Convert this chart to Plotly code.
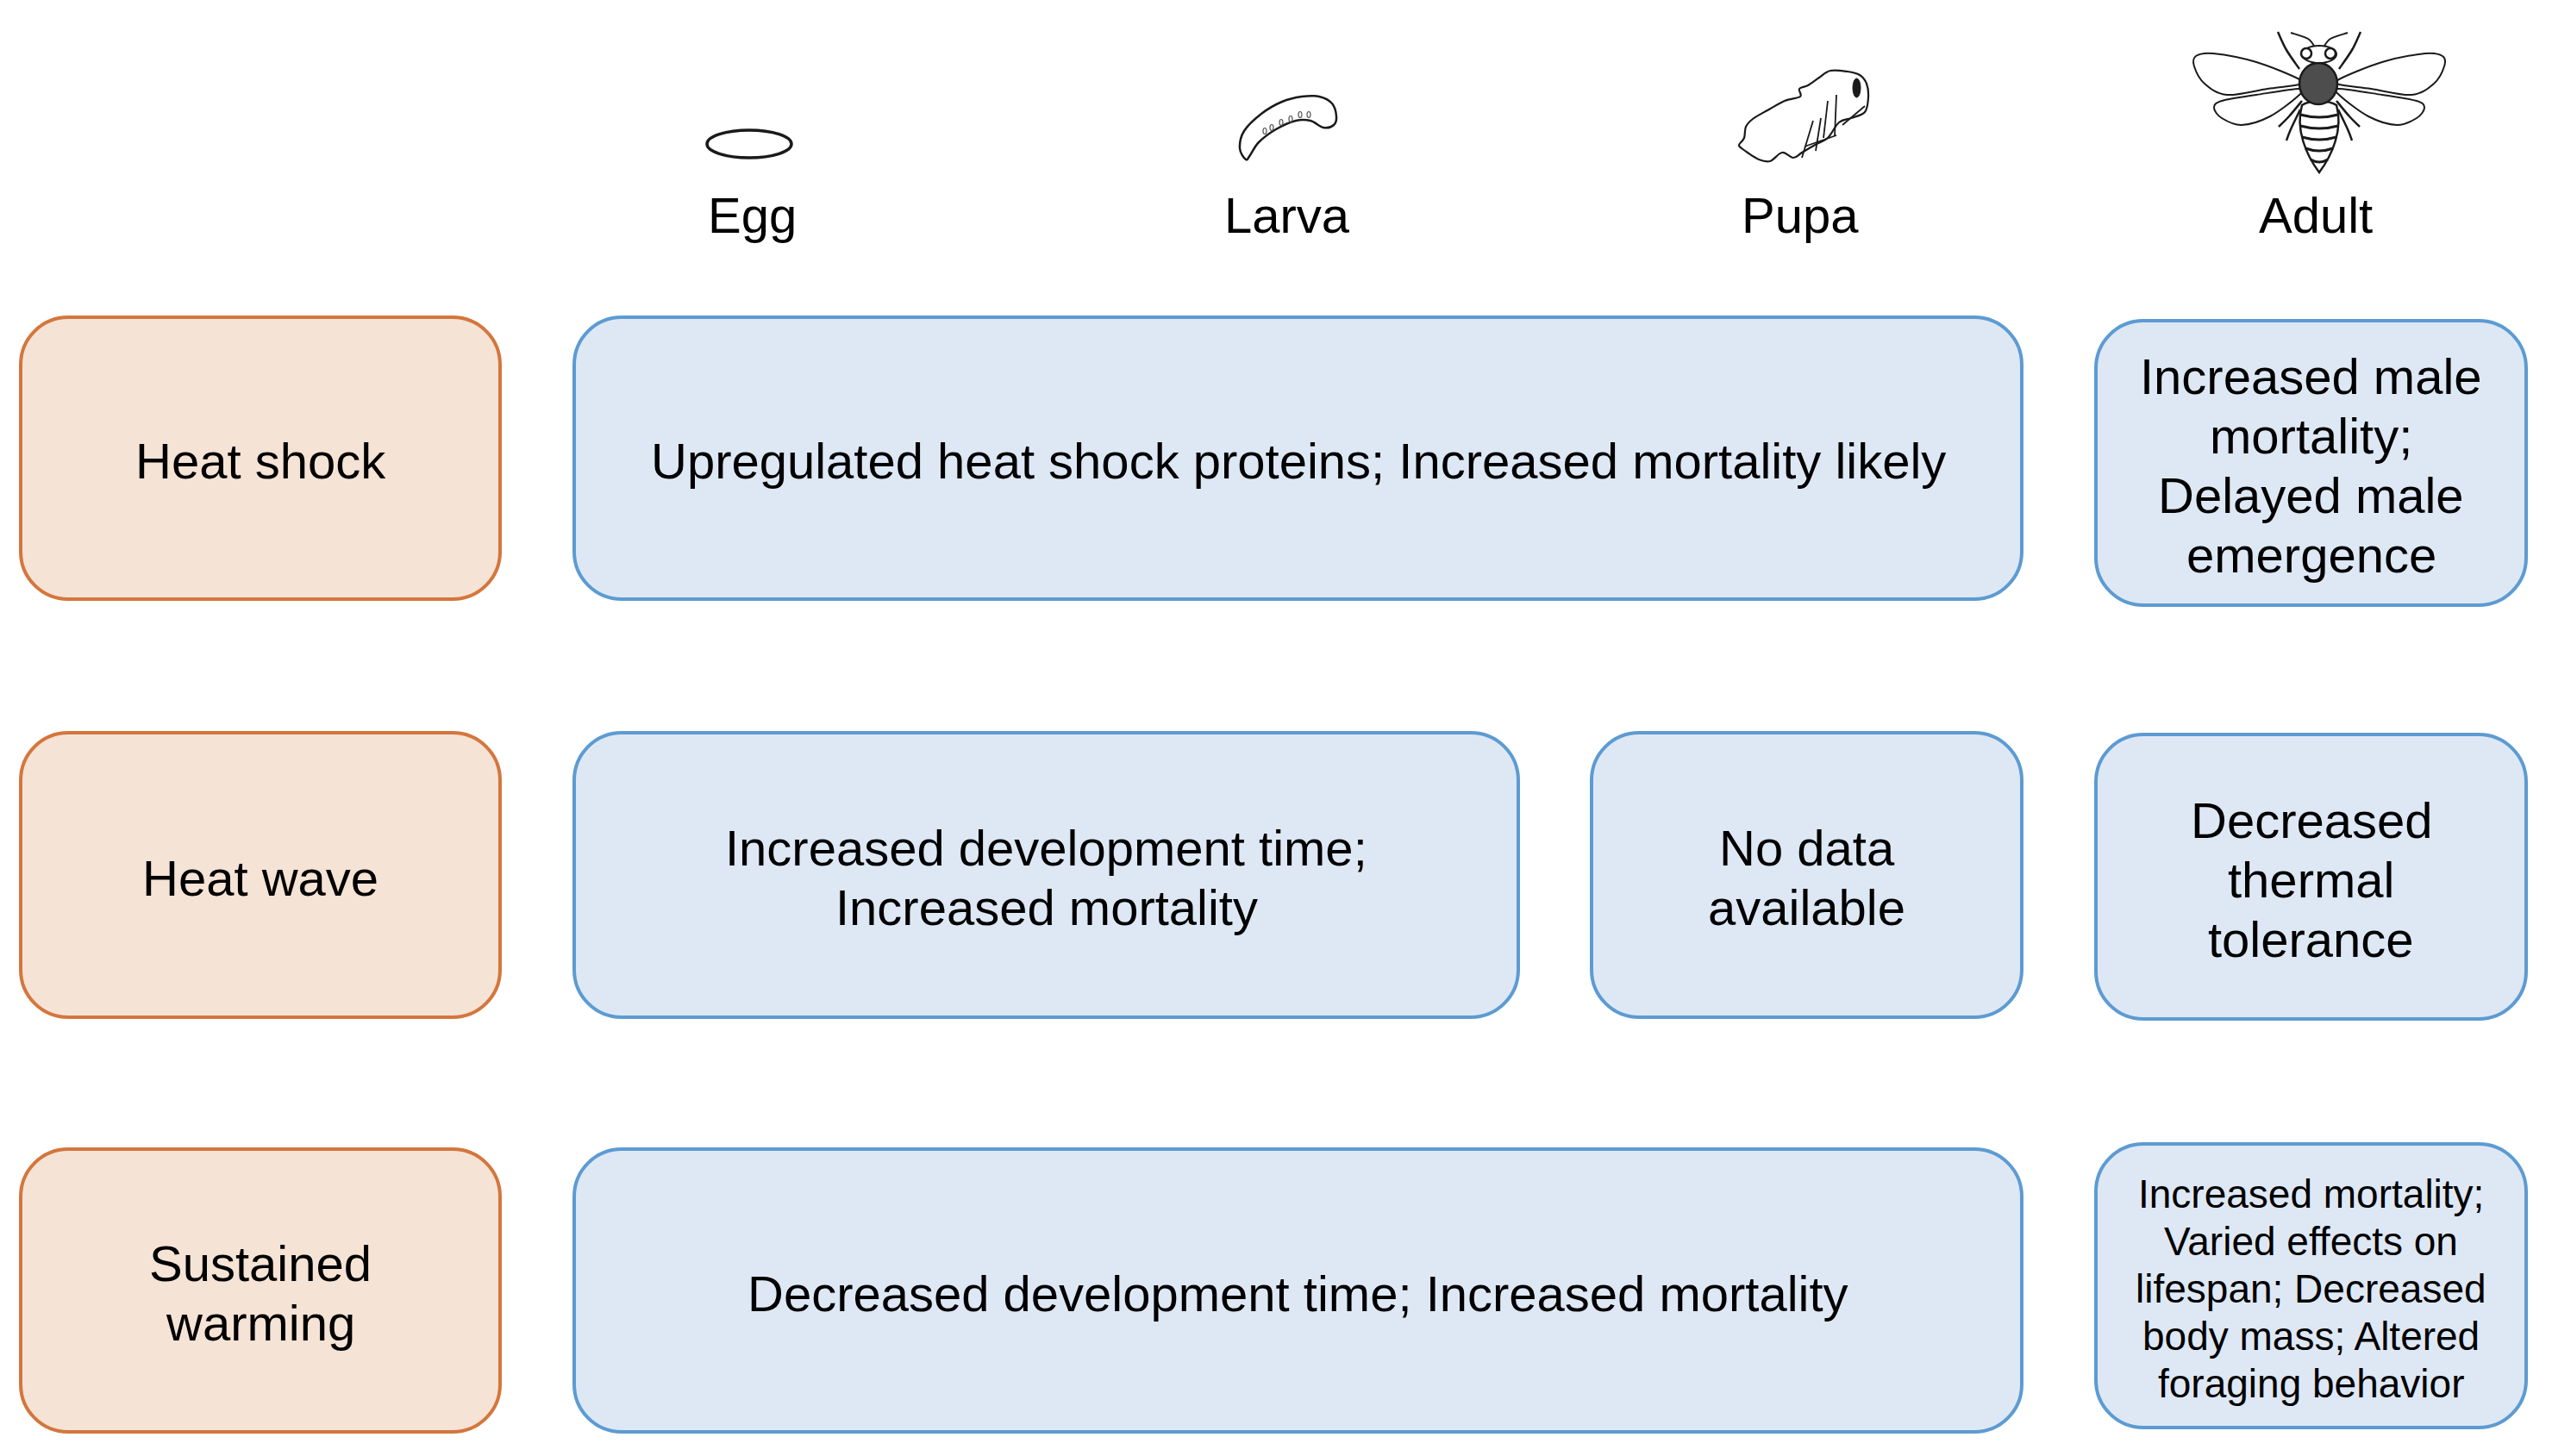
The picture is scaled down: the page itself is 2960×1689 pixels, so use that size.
import plotly.graph_objects as go

W, H = 2960, 1689
PAGE_OFFSET = 8  # browser body margin; keeps page pixels == data units

# ---- content ----
stages = ["Egg", "Larva", "Pupa", "Adult"]
stage_label_x = [872, 1493, 2088, 2686]
stage_label_y = 249

events = [["Heat shock"], ["Heat wave"], ["Sustained", "warming"]]

# (row, first stage, last stage, text lines, small text?)
effects = [
    (0, 0, 2, ["Upregulated heat shock proteins; Increased mortality likely"], False),
    (0, 3, 3, ["Increased male", "mortality;", "Delayed male", "emergence"], False),
    (1, 0, 1, ["Increased development time;", "Increased mortality"], False),
    (1, 2, 2, ["No data", "available"], False),
    (1, 3, 3, ["Decreased", "thermal", "tolerance"], False),
    (2, 0, 2, ["Decreased development time; Increased mortality"], False),
    (2, 3, 3, ["Increased mortality;", "Varied effects on", "lifespan; Decreased",
               "body mass; Altered", "foraging behavior"], True),
]

# ---- layout grid ----
event_col = (24, 580)
stage_cols = [(666, 1170), (1256, 1761), (1846, 2345), (2431, 2930)]
rows = [(368, 695), (850, 1180), (1333, 1661)]
adult_rows = [(372, 702), (852, 1182), (1327, 1656)]

RADIUS = 55
FONT = "Liberation Sans, Arial, Helvetica, sans-serif"
BIG, SMALL = 58, 46
BIG_LEAD, SMALL_LEAD = 69, 55

ORANGE_FILL, ORANGE_LINE = "#F5E3D5", "#D4763D"
BLUE_FILL, BLUE_LINE = "#DEE8F5", "#5D9BD2"


def rounded_rect(x0, y0, x1, y1, r):
    k = 0.5523 * r
    return (
        f"M {x0 + r},{y0} L {x1 - r},{y0} "
        f"C {x1 - r + k},{y0} {x1},{y0 + r - k} {x1},{y0 + r} "
        f"L {x1},{y1 - r} "
        f"C {x1},{y1 - r + k} {x1 - r + k},{y1} {x1 - r},{y1} "
        f"L {x0 + r},{y1} "
        f"C {x0 + r - k},{y1} {x0},{y1 - r + k} {x0},{y1 - r} "
        f"L {x0},{y0 + r} "
        f"C {x0},{y0 + r - k} {x0 + r - k},{y0} {x0 + r},{y0} Z"
    )


def smooth(points, cx, cy, closed=True, sx=1):
    """Catmull-Rom spline through points, shifted to (cx, cy)."""
    pts = [(cx + sx * x, cy + y) for x, y in points]
    n = len(pts)
    d = f"M {pts[0][0]:.1f},{pts[0][1]:.1f} "
    last = n if closed else n - 1
    for i in range(last):
        p0 = pts[(i - 1) % n] if closed or i > 0 else pts[i]
        p1 = pts[i % n]
        p2 = pts[(i + 1) % n]
        p3 = pts[(i + 2) % n] if closed or i + 2 < n else p2
        c1 = (p1[0] + (p2[0] - p0[0]) / 6, p1[1] + (p2[1] - p0[1]) / 6)
        c2 = (p2[0] - (p3[0] - p1[0]) / 6, p2[1] - (p3[1] - p1[1]) / 6)
        d += f"C {c1[0]:.1f},{c1[1]:.1f} {c2[0]:.1f},{c2[1]:.1f} {p2[0]:.1f},{p2[1]:.1f} "
    return d + ("Z" if closed else "")


shapes = []
annotations = []


def box(x0, y0, x1, y1, fill, line):
    shapes.append(dict(type="path", path=rounded_rect(x0, y0, x1, y1, RADIUS),
                       fillcolor=fill, line=dict(color=line, width=4), layer="below"))


def text_lines(lines, cx, cy, small=False):
    size = SMALL if small else BIG
    lead = SMALL_LEAD if small else BIG_LEAD
    n = len(lines)
    for i, t in enumerate(lines):
        annotations.append(dict(
            x=cx, y=cy + (i - (n - 1) / 2) * lead + 3, text=t, showarrow=False,
            xanchor="center", yanchor="middle",
            font=dict(family=FONT, size=size, color="black")))


# event boxes
for r, lines in enumerate(events):
    y0, y1 = rows[r]
    box(event_col[0], y0, event_col[1], y1, ORANGE_FILL, ORANGE_LINE)
    text_lines(lines, (event_col[0] + event_col[1]) / 2, (y0 + y1) / 2)

# effect boxes
for r, c0, c1, lines, small in effects:
    y0, y1 = adult_rows[r] if c0 == 3 else rows[r]
    x0, x1 = stage_cols[c0][0], stage_cols[c1][1]
    box(x0, y0, x1, y1, BLUE_FILL, BLUE_LINE)
    text_lines(lines, (x0 + x1) / 2, (y0 + y1) / 2, small)

# stage headers
for name, x in zip(stages, stage_label_x):
    annotations.append(dict(x=x, y=stage_label_y, text=name, showarrow=False,
                            xanchor="center", yanchor="middle",
                            font=dict(family=FONT, size=BIG, color="black")))

# ---- stage icons (simple line drawings) ----
INK = "#1a1a1a"


def outline(path, width=2, fill="rgba(0,0,0,0)"):
    shapes.append(dict(type="path", path=path, line=dict(color=INK, width=width),
                       fillcolor=fill))


def seg(cx, cy, a, b, width=1.8):
    outline(f"M {cx + a[0]},{cy + a[1]} L {cx + b[0]},{cy + b[1]}", width=width)


# egg
shapes.append(dict(type="circle", x0=869 - 49, x1=869 + 49, y0=167 - 16, y1=167 + 16,
                   line=dict(color=INK, width=3.5)))

# larva
LX, LY = 1494, 148
larva = [(-49, 37), (-56, 24), (-51, 4), (-31, -16), (-7, -30), (16, -36), (36, -36),
         (51, -28), (56, -13), (53, -3), (41, 0), (26, -8), (9, -8), (-14, 2),
         (-34, 17), (-44, 32)]
outline(smooth(larva, LX, LY), width=2.5)
for dx, dy in [(-27, 4), (-19, 0), (-8, -6), (3, -10), (14, -15), (24, -15)]:
    shapes.append(dict(type="circle", x0=LX + dx - 2, x1=LX + dx + 2,
                       y0=LY + dy - 3.5, y1=LY + dy + 3.5, line=dict(color="#555", width=1.2)))

# pupa
PX, PY = 2092, 135
pupa = [(-75, 33), (-69, 25), (-67, 12), (-59, 3), (-42, -7), (-22, -18), (-4, -23),
        (-5, -32), (5, -36), (18, -45), (31, -53), (51, -52), (65, -48), (73, -38),
        (75, -22), (71, -5), (55, 2), (41, 7), (28, 25), (15, 32), (-2, 42),
        (-12, 48), (-25, 42), (-39, 52), (-52, 50), (-65, 42), (-72, 37)]
outline(smooth(pupa, PX, PY), width=2.2)
shapes.append(dict(type="circle", x0=PX + 57, x1=PX + 66, y0=PY - 44, y1=PY - 22,
                   fillcolor=INK, line=dict(color=INK, width=1)))
for a, b in [((28, -18), (23, 25)), ((38, -25), (36, 23)), ((11, 5), (-2, 48)),
             ((45, 10), (71, -12)), ((1, 35), (38, 22)), ((20, 2), (14, 40))]:
    seg(PX, PY, a, b)

# bee
BX, BY = 2690, 100
wing_up = [(-23, -8), (-73, -28), (-123, -38), (-143, -35), (-145, -23), (-133, -3),
           (-107, 10), (-60, 3), (-23, -2)]
wing_lo = [(-23, 3), (-73, 10), (-113, 17), (-122, 25), (-113, 37), (-90, 45),
           (-57, 35), (-23, 10)]
for sx in (1, -1):
    outline(smooth(wing_up, BX, BY, sx=sx), width=2)
    outline(smooth(wing_lo, BX, BY, sx=sx), width=2)
    outline(smooth([(-5, -45), (-13, -55), (-33, -62)], BX, BY, closed=False, sx=sx), 2)
    outline(smooth([(-23, -20), (-38, -42), (-48, -63)], BX, BY, closed=False, sx=sx), 2.5)
    outline(smooth([(-20, 17), (-35, 35), (-47, 47)], BX, BY, closed=False, sx=sx), 2.5)
    outline(smooth([(-22, 27), (-33, 50), (-38, 63)], BX, BY, closed=False, sx=sx), 2.5)
# abdomen
outline(f"M {BX - 20},{BY + 22} C {BX - 28},{BY + 50} {BX - 15},{BY + 80} {BX},{BY + 100} "
        f"C {BX + 15},{BY + 80} {BX + 28},{BY + 50} {BX + 20},{BY + 22} "
        f"C {BX + 12},{BY + 16} {BX - 12},{BY + 16} {BX - 20},{BY + 22} Z",
        width=2.5, fill="white")
for dy, hw in [(33, 22), (46, 22), (59, 20), (72, 16), (85, 10)]:
    outline(f"M {BX - hw},{BY + dy} Q {BX},{BY + dy + 6} {BX + hw},{BY + dy}", width=3)
# thorax and head
shapes.append(dict(type="circle", x0=BX - 23, x1=BX + 21, y0=BY - 27, y1=BY + 21,
                   fillcolor="#4d4d4d", line=dict(color=INK, width=2.5)))
shapes.append(dict(type="circle", x0=BX - 20, x1=BX + 20, y0=BY - 47, y1=BY - 27,
                   fillcolor="white", line=dict(color=INK, width=2)))
for ex in (-15, 13):
    shapes.append(dict(type="circle", x0=BX + ex - 6, x1=BX + ex + 6, y0=BY - 44, y1=BY - 32,
                       fillcolor="white", line=dict(color=INK, width=2.5)))

fig = go.Figure()
fig.update_layout(
    width=W, height=H,
    margin=dict(l=0, r=0, t=0, b=0),
    paper_bgcolor="white", plot_bgcolor="white",
    xaxis=dict(range=[PAGE_OFFSET, W + PAGE_OFFSET], visible=False, fixedrange=True),
    yaxis=dict(range=[H + PAGE_OFFSET, PAGE_OFFSET], visible=False, fixedrange=True),
    shapes=shapes, annotations=annotations, showlegend=False,
)
fig.write_html("out.html")
